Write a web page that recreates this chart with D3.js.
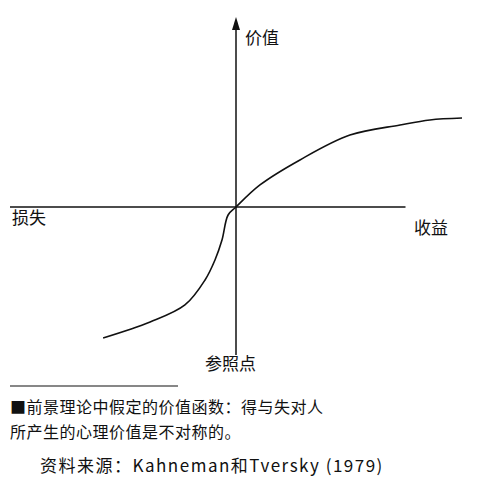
<!DOCTYPE html>
<html><head><meta charset="utf-8">
<script src="https://cdn.jsdelivr.net/npm/d3@7"></script>
<style>body{margin:0;background:#fff}text{font-family:"Noto Sans CJK SC",sans-serif;fill:#111}</style>
</head><body><div id="chart"></div>
<script>
// value function: gain/loss (x) vs psychological value (y), arbitrary units
const gains = [-58.8, -38, -22.6, -13.7, -9.3, -6.2, -3.5, 0, 10.6, 28.3, 50.4, 72.6, 85.8, 100];
const values = [-88.5, -77.7, -66.2, -49.3, -35.8, -22.3, -5.4, 0, 14.9, 31.8, 48.6, 55.4, 58.8, 60.1];
const axisLabels = ['损失', '收益', '价值', '参照点'];
const captionLines = ['■前景理论中假定的价值函数：得与失对人', '所产生的心理价值是不对称的。'];
const sourceLine = '资料来源：Kahneman和Tversky (1979)';

const width = 500, height = 494;
const svg = d3.select('#chart').append('svg').attr('width', width).attr('height', height);

const x = d3.scaleLinear().domain([-100, 100]).range([10, 462]);
const y = d3.scaleLinear().domain([-100, 100]).range([355, 59]);

// axes
svg.append('line').attr('x1', x(-100)).attr('x2', x(75)).attr('y1', y(0)).attr('y2', y(0))
  .attr('stroke', '#111').attr('stroke-width', 1.5);
svg.append('line').attr('x1', x(0)).attr('x2', x(0)).attr('y1', y(-100)).attr('y2', 24)
  .attr('stroke', '#111').attr('stroke-width', 1.5);
svg.append('path').attr('d', `M${x(0) - 4},30 L${x(0)},17 L${x(0) + 4},30 Z`).attr('fill', '#111');

const line = d3.line().x((d, i) => x(gains[i])).y((d) => y(d)).curve(d3.curveCatmullRom);
svg.append('path').datum(values).attr('d', line).attr('fill', 'none')
  .attr('stroke', '#111').attr('stroke-width', 1.6);

svg.append('text').attr('x', 12).attr('y', 224).attr('font-size', 17).text(axisLabels[0]);
svg.append('text').attr('x', 414).attr('y', 234).attr('font-size', 17).text(axisLabels[1]);
svg.append('text').attr('x', 245).attr('y', 44).attr('font-size', 17).text(axisLabels[2]);
svg.append('text').attr('x', 205).attr('y', 370).attr('font-size', 17).text(axisLabels[3]);

svg.append('line').attr('x1', 10).attr('x2', 178).attr('y1', 386).attr('y2', 386)
  .attr('stroke', '#111').attr('stroke-width', 1.2);
captionLines.forEach((t, i) => {
  svg.append('text').attr('x', 10).attr('y', 413 + i * 25).attr('font-size', 16)
    .attr('letter-spacing', 0.5).text(t);
});
svg.append('text').attr('x', 40).attr('y', 472).attr('font-size', 17)
  .attr('letter-spacing', 1.5).text(sourceLine);
</script></body></html>
